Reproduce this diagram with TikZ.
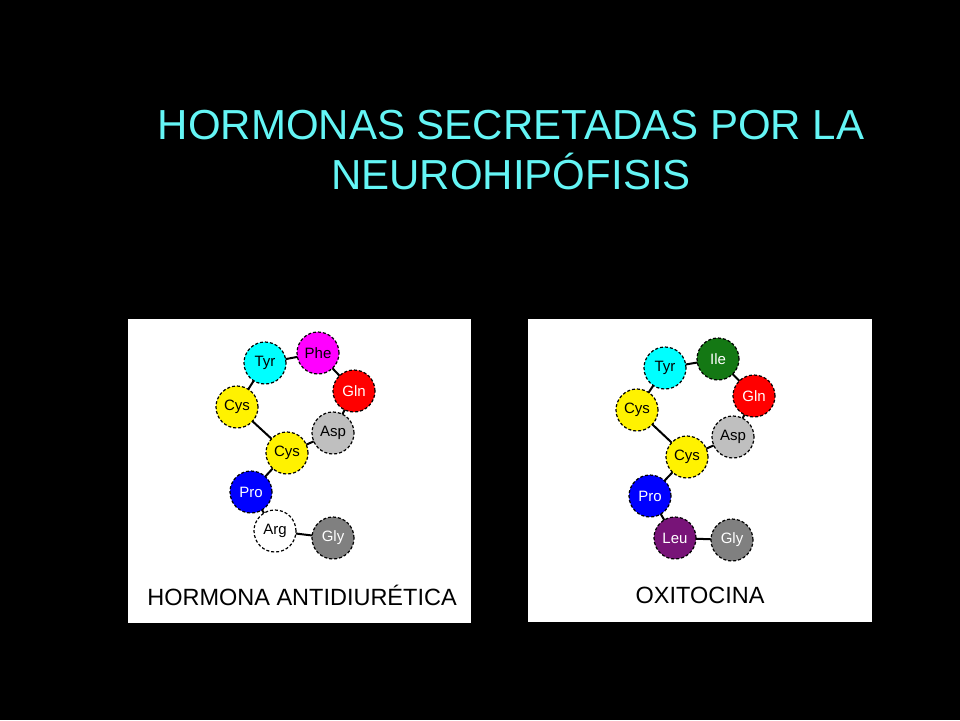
\documentclass[tikz,border=0pt]{standalone}
\usepackage{fontspec}
\setmainfont{Liberation Sans}
\definecolor{titlecyan}{RGB}{100,245,245}
\definecolor{tyrcyan}{RGB}{0,255,255}
\definecolor{phemagenta}{RGB}{255,0,255}
\definecolor{ilegreen}{RGB}{20,120,20}
\definecolor{leupurple}{RGB}{120,20,120}
\tikzset{
  res/.style={circle, draw=black, densely dashed, line width=1.2pt, minimum size=42pt, inner sep=0pt, font=\fontsize{15}{15}\selectfont},
  bond/.style={black, line width=2pt},
}
\begin{document}
\begin{tikzpicture}[x=1pt,y=-1pt]
	\fill[black] (0,0) rectangle (960,720);
	\useasboundingbox (0,0) rectangle (960,720);
	% title
	\node[titlecyan, align=center, font=\fontsize{42}{50}\selectfont] (title) at (511,150) {HORMONAS SECRETADAS POR LA\\NEUROHIPÓFISIS};
	% panels
	\fill[white] (128,319) rectangle (471,623);
	\fill[white] (528,319) rectangle (872,622);
	\node[font=\fontsize{23.5}{24}\selectfont] (adh) at (302,595) {HORMONA ANTIDIURÉTICA};
	\node[font=\fontsize{23.5}{24}\selectfont] (oxi) at (700,595) {OXITOCINA};

	% antidiuretic hormone
	\draw[bond] (237,407) -- (265,363) -- (318,353) -- (354,391) -- (333,433) -- (287,453) -- (237,407);
	\draw[bond] (287,453) -- (251,492) -- (275,531) -- (333,538);
	\node[res, fill=yellow] (acys1) at (237,407) {Cys};
	\node[res, fill=tyrcyan] (atyr) at (265,363) {Tyr};
	\node[res, fill=phemagenta] (aphe) at (318,353) {Phe};
	\node[res, fill=red, text=white] (agln) at (354,391) {Gln};
	\node[res, fill=gray!50] (aasp) at (333,433) {Asp};
	\node[res, fill=yellow] (acys2) at (287,453) {Cys};
	\node[res, fill=blue, text=white] (apro) at (251,492) {Pro};
	\node[res, fill=white] (aarg) at (275,531) {Arg};
	\node[res, fill=gray, text=white] (agly) at (333,538) {Gly};

	% oxytocin
	\draw[bond] (637,410) -- (665,368) -- (718,359) -- (754,396) -- (733,437) -- (687,457) -- (637,410);
	\draw[bond] (687,457) -- (650,496) -- (675,538) -- (732,540);
	\node[res, fill=yellow] (ocys1) at (637,410) {Cys};
	\node[res, fill=tyrcyan] (otyr) at (665,368) {Tyr};
	\node[res, fill=ilegreen, text=white] (oile) at (718,359) {Ile};
	\node[res, fill=red, text=white] (ogln) at (754,396) {Gln};
	\node[res, fill=gray!50] (oasp) at (733,437) {Asp};
	\node[res, fill=yellow] (ocys2) at (687,457) {Cys};
	\node[res, fill=blue, text=white] (opro) at (650,496) {Pro};
	\node[res, fill=leupurple, text=white] (oleu) at (675,538) {Leu};
	\node[res, fill=gray, text=white] (ogly) at (732,540) {Gly};
\end{tikzpicture}
\end{document}
